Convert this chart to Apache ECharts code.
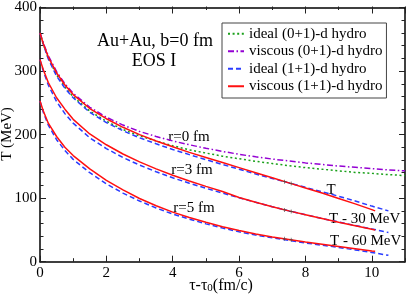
<!DOCTYPE html>
<html><head><meta charset="utf-8">
<script src="https://cdn.jsdelivr.net/npm/echarts@6/dist/echarts.min.js"></script>
<style>html,body{margin:0;padding:0;background:#fff}#c{width:407px;height:297px}</style>
</head><body><div id="c"></div>
<script>
// ---- data (tau - tau0 in fm/c, T in MeV) ----
const tau01 = [0,0.1,0.25,0.5,0.75,1,1.5,2,2.5,3,3.5,4,4.5,5,5.5,6,6.5,7,7.5,8,8.5,9,9.5,10,10.5,11];
const idealBjorken   = [360,342,320.5,294,275,259.5,237,221,208,198,190,182.5,176,171,166,162,158,154.5,151,148,145.5,143,140.5,139,137,135.5];
const viscousBjorken = [360,344,324,299,280,265,243,227.5,215,205,197,190,184,178.5,173.5,169,165,161.5,158.5,155.5,153,150.5,148.5,146.5,144.5,143];

const tauViscous = [0,0.1,0.25,0.5,0.75,1,1.5,2,2.5,3,3.5,4,4.5,5,5.5,6,6.5,7,7.5,8,8.5,9,9.5,10,10.1];
const tauIdeal   = [0,0.1,0.25,0.5,0.75,1,1.5,2,2.5,3,3.5,4,4.5,5,5.5,6,6.5,7,7.5,8,8.5,9,9.5,10,10.5];
// r = 0 fm (T)
const viscousR0 = [360,343,322,297,278,263,241,225,211.5,200,190,181,172,164,156,148,140,132,124,116,108,99.5,91,82,80];
const idealR0   = [360,342,319,292,273,258,235,219,206,195,185.5,176.5,168.5,160.5,153,145.5,138,131,124,117,110,103,95.5,87.5,80];
// r = 3 fm (T - 30 MeV)
const viscousR3 = [318,302,282,258,240,224,201,184,169.5,157,146,136,127,118.5,110.5,101,93.5,86.5,80,74,68,62,56.5,51,50];
const idealR3   = [318,300,278,252,233,218,195,178,164,152,141.5,132,123.5,115.5,108,100.5,93.5,86.5,80,74,68,62.5,57,51.5,46];
// r = 5 fm (T - 60 MeV)
const viscousR5 = [253,237,218,197,180,167,146,128,113,99.5,88,78,69.5,62,55,49,43.5,39,35,31,27.5,24,20.5,17,16.5];
const idealR5   = [253,235,215,192,175,161,140,122.5,108,95.5,84.5,75,67,59.5,53,47,42,37.5,33.5,29.5,26,22.5,18.5,14.5,10];
// small cross marks on the curves
const markTau = [7.37, 7.57];
const markR0 = [126, 123];
const markR3 = [81.5, 79];
const markR5 = [36, 34.5];

const legendNames = ['ideal (0+1)-d hydro','viscous (0+1)-d hydro','ideal (1+1)-d hydro','viscous (1+1)-d hydro'];

// ---- chart ----
const FONT = 'Liberation Serif';
const pairs = (t, v) => t.map((x, i) => [x, v[i]]);
const chart = echarts.init(document.getElementById('c'), null, {renderer: 'canvas'});
const gridBox = {left: 40, right: 2, top: 6.5, bottom: 35.3};
const GREEN = '#1aa01a', PURPLE = '#9400d3', BLUE = '#2a3cff', RED = '#ff1010';

function line(name, t, v, color, type, z) {
  return {type: 'line', name, data: pairs(t, v), xAxisIndex: 0, yAxisIndex: 0,
    showSymbol: false, symbol: 'none', z: z, animation: false,
    lineStyle: {color, width: 1.5, type}, itemStyle: {color}};
}
function marks(v) {
  return {type: 'scatter', data: pairs(markTau, v), xAxisIndex: 0, yAxisIndex: 0, z: 5,
    symbol: 'path://M4 0H6V4H10V6H6V10H4V6H0V4H4Z', symbolSize: 4, itemStyle: {color: '#444'},
    silent: true, animation: false};
}
const majorX = (pos, labels) => ({type: 'value', gridIndex: 0, position: pos, min: 0, max: 11, interval: 2,
  axisLine: {show: true, onZero: false, lineStyle: {color: '#000', width: 1.5}},
  axisTick: {show: true, inside: true, length: 6, lineStyle: {color: '#222', width: 1}},
  axisLabel: {show: labels, margin: 4, color: '#000', fontFamily: FONT, fontSize: 15, showMaxLabel: false},
  splitLine: {show: false}});
const minorX = (pos) => ({type: 'value', gridIndex: 1, position: pos, min: 0, max: 11, interval: 1,
  axisLine: {show: false}, axisTick: {show: true, inside: true, length: 3.5, lineStyle: {color: '#222', width: 1}},
  axisLabel: {show: false}, splitLine: {show: false}});
const majorY = (pos, labels) => ({type: 'value', gridIndex: 0, position: pos, min: 0, max: 400, interval: 100,
  axisLine: {show: true, onZero: false, lineStyle: {color: '#000', width: 1.5}},
  axisTick: {show: true, inside: true, length: 6, lineStyle: {color: '#222', width: 1}},
  minorTick: {show: true, splitNumber: 5, length: 3.5, lineStyle: {color: '#222', width: 1}},
  axisLabel: {show: labels, margin: 3, color: '#000', fontFamily: FONT, fontSize: 15},
  splitLine: {show: false}, minorSplitLine: {show: false}});

const option = {
  animation: false,
  backgroundColor: '#fff',
  grid: [Object.assign({}, gridBox), Object.assign({}, gridBox)],
  xAxis: [majorX('bottom', true), majorX('top', false), minorX('bottom'), minorX('top')],
  yAxis: [majorY('left', true), majorY('right', false),
    {type: 'value', gridIndex: 1, min: 0, max: 400, show: false}],
  legend: {
    data: legendNames, orient: 'vertical', left: 222, top: 23,
    padding: [2, 4, 3, 5], itemWidth: 16, itemHeight: 10, itemGap: 0,
    borderColor: '#444', borderWidth: 1, backgroundColor: '#fff',
    itemStyle: {opacity: 0},
    textStyle: {fontFamily: FONT, fontSize: 15, color: '#000', lineHeight: 17.5},
    selectedMode: false
  },
  series: [
    line(legendNames[0], tau01, idealBjorken, GREEN, [2, 2.6], 2),
    line(legendNames[1], tau01, viscousBjorken, PURPLE, [6, 2.5, 1.5, 2.5], 2),
    line(legendNames[2], tauIdeal, idealR0, BLUE, [5, 3], 3),
    line(legendNames[2], tauIdeal, idealR3, BLUE, [5, 3], 3),
    line(legendNames[2], tauIdeal, idealR5, BLUE, [5, 3], 3),
    line(legendNames[3], tauViscous, viscousR0, RED, 'solid', 4),
    line(legendNames[3], tauViscous, viscousR3, RED, 'solid', 4),
    line(legendNames[3], tauViscous, viscousR5, RED, 'solid', 4),
    marks(markR0), marks(markR3), marks(markR5)
  ],
  graphic: [
    {type: 'text', x: 155, y: 41, style: {text: 'Au+Au, b=0 fm', font: '18px ' + FONT, fill: '#000', align: 'center', verticalAlign: 'middle'}},
    {type: 'text', x: 154, y: 61, style: {text: 'EOS I', font: '18px ' + FONT, fill: '#000', align: 'center', verticalAlign: 'middle'}},
    {type: 'text', x: 189, y: 137, style: {text: 'r=0 fm', font: '15px ' + FONT, fill: '#000', align: 'center', verticalAlign: 'middle'}},
    {type: 'text', x: 192, y: 170, style: {text: 'r=3 fm', font: '15px ' + FONT, fill: '#000', align: 'center', verticalAlign: 'middle'}},
    {type: 'text', x: 194, y: 208, style: {text: 'r=5 fm', font: '15px ' + FONT, fill: '#000', align: 'center', verticalAlign: 'middle'}},
    {type: 'text', x: 331, y: 190, style: {text: 'T', font: '15px ' + FONT, fill: '#000', align: 'center', verticalAlign: 'middle'}},
    {type: 'text', x: 329, y: 219, style: {text: 'T - 30 MeV', font: '15px ' + FONT, fill: '#000', align: 'left', verticalAlign: 'middle'}},
    {type: 'text', x: 330, y: 241, style: {text: 'T - 60 MeV', font: '15px ' + FONT, fill: '#000', align: 'left', verticalAlign: 'middle'}},
    {type: 'text', x: 7, y: 134, rotation: Math.PI / 2, style: {text: 'T (MeV)', font: '15px ' + FONT, fill: '#000', align: 'center', verticalAlign: 'middle'}},
    {type: 'text', x: 221, y: 285, style: {
      text: '{a|τ-τ}{s|0}{a|(fm/c)}', align: 'center', verticalAlign: 'middle',
      rich: {a: {fontFamily: FONT, fontSize: 16, fill: '#000', verticalAlign: 'bottom', lineHeight: 18},
             s: {fontFamily: FONT, fontSize: 11, fill: '#000', verticalAlign: 'bottom', lineHeight: 12, padding: [6, 0, 0, 0]}}}}
  ]
};
chart.setOption(option);
</script></body></html>
